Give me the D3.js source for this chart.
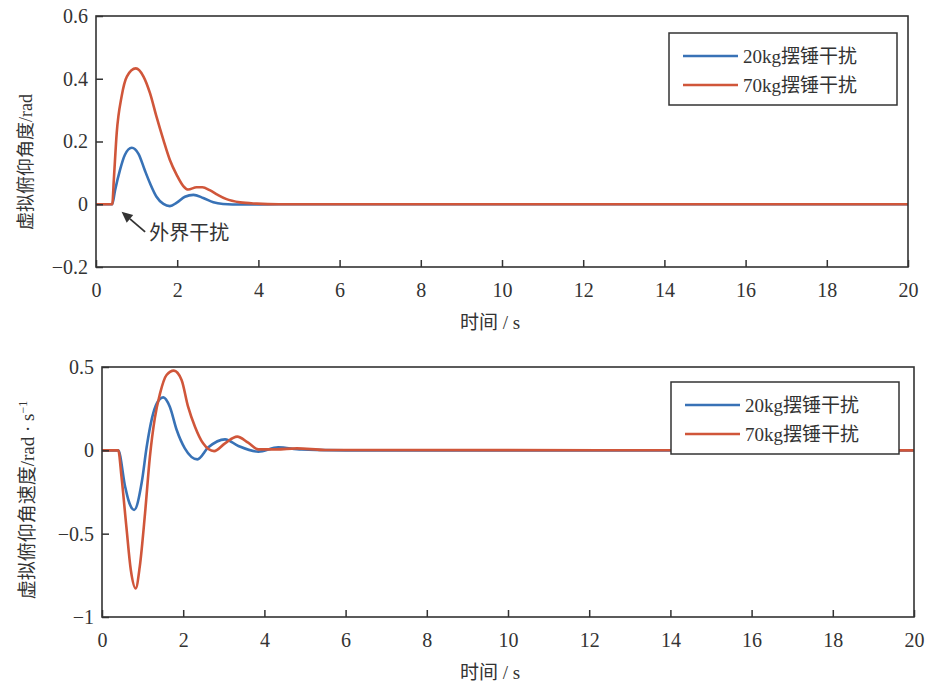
<!DOCTYPE html>
<html>
<head>
<meta charset="utf-8">
<script src="https://cdn.jsdelivr.net/npm/d3@7/dist/d3.min.js"></script>
<style>
  body { margin: 0; background: #fff; }
  svg text { font-family: "Liberation Serif", "Times New Roman", "DejaVu Serif", "Noto Sans CJK SC", serif; fill: #333; }
</style>
</head>
<body>
<div id="chart"></div>
<script>
var chart_width  = 927;
var chart_height = 683;
var serif = '"Liberation Serif", "Times New Roman", "DejaVu Serif", "Noto Sans CJK SC", serif';

var seriesNames = ['20kg摆锤干扰', '70kg摆锤干扰'];
var colors = ['#3872b6', '#d0563a'];

// 虚拟俯仰角度 (rad)
var tAngBlue = [0, 0.4, 0.47, 0.59, 0.71, 0.88, 1.05, 1.2, 1.33, 1.49, 1.66, 1.82, 1.99, 2.19, 2.4, 2.64, 2.89, 3.13, 3.6, 4.5, 20];
var angBlue  = [0, 0, 0.045, 0.109, 0.157, 0.18, 0.16, 0.109, 0.067, 0.024, 0.001, -0.006, 0.005, 0.024, 0.03, 0.02, 0.006, 0.001, -0.001, 0, 0];
var tAngRed  = [0, 0.4, 0.44, 0.51, 0.63, 0.76, 0.98, 1.17, 1.33, 1.49, 1.66, 1.82, 1.99, 2.15, 2.27, 2.48, 2.62, 2.8, 3.0, 3.2, 3.55, 3.96, 4.5, 20];
var angRed   = [0, 0, 0.08, 0.227, 0.343, 0.407, 0.433, 0.407, 0.354, 0.279, 0.205, 0.141, 0.093, 0.058, 0.047, 0.054, 0.054, 0.045, 0.03, 0.017, 0.006, 0.002, 0, 0];

// 虚拟俯仰角速度 (rad/s)
var tVelBlue = [0, 0.4, 0.57, 0.65, 0.79, 0.98, 1.1, 1.23, 1.35, 1.51, 1.67, 1.84, 2.04, 2.35, 2.62, 3.03, 3.36, 3.85, 4.34, 4.91, 6, 20];
var velBlue  = [0, 0, -0.218, -0.298, -0.358, -0.19, 0.02, 0.192, 0.282, 0.318, 0.262, 0.122, 0.012, -0.054, 0.018, 0.066, 0.026, -0.008, 0.018, 0.005, 0, 0];
var tVelRed  = [0, 0.4, 0.48, 0.6, 0.71, 0.83, 0.93, 1.06, 1.18, 1.3, 1.43, 1.59, 1.77, 1.96, 2.12, 2.29, 2.49, 2.76, 3.03, 3.33, 3.6, 3.85, 4.3, 4.8, 5.5, 20];
var velRed   = [0, 0, -0.158, -0.458, -0.718, -0.828, -0.698, -0.378, -0.038, 0.192, 0.342, 0.452, 0.478, 0.422, 0.262, 0.142, 0.042, -0.005, 0.042, 0.082, 0.046, 0.006, 0.006, 0.012, 0.002, 0];

var xTicks = [0, 2, 4, 6, 8, 10, 12, 14, 16, 18, 20];
var angTicks = [-0.2, 0, 0.2, 0.4, 0.6];
var velTicks = [-1, -0.5, 0, 0.5];

var svg = d3.select('#chart')
            .append('svg')
            .attr('width', chart_width)
            .attr('height', chart_height)
            .attr('font-family', serif);

function fmt(v) {
    return v < 0 ? '\u2212' + Math.abs(v) : String(v);
}

function zip(ts, vs) {
    return ts.map((t, i) => [t, vs[i]]);
}

function drawPanel(opt) {
    var g = svg.append('g').attr('transform', 'translate(' + opt.left + ',' + opt.top + ')');
    var x_scale = d3.scaleLinear().domain([0, 20]).range([0, opt.w]);
    var y_scale = d3.scaleLinear().domain(opt.domain).range([opt.h, 0]);

    var line = d3.line()
                 .x((d) => x_scale(d[0]))
                 .y((d) => y_scale(d[1]))
                 .curve(d3.curveMonotoneX);

    opt.series.forEach((s, i) => {
        g.append('path')
         .attr('d', line(s))
         .attr('fill', 'none')
         .attr('stroke', colors[i])
         .attr('stroke-width', 2.6)
         .attr('stroke-linejoin', 'round');
    });

    // axes, ticks pointing inward
    var xa = g.append('g')
              .attr('transform', 'translate(0,' + opt.h + ')')
              .call(d3.axisBottom(x_scale).tickValues(xTicks).tickSizeInner(-7).tickSizeOuter(0).tickPadding(16).tickFormat(fmt));
    var ya = g.append('g')
              .call(d3.axisLeft(y_scale).tickValues(opt.ticks).tickSizeInner(-7).tickSizeOuter(0).tickPadding(8).tickFormat(fmt));
    [xa, ya].forEach((a) => {
        a.attr('font-family', serif).attr('font-size', 20);
        a.select('.domain').remove();
        a.selectAll('line').attr('stroke', '#333').attr('stroke-width', 1.5);
        a.selectAll('text').attr('fill', '#333');
    });

    g.append('rect')
     .attr('width', opt.w).attr('height', opt.h)
     .attr('fill', 'none').attr('stroke', '#333').attr('stroke-width', 1.6);

    // legend
    var lg = g.append('g').attr('transform', 'translate(' + opt.legend[0] + ',' + opt.legend[1] + ')');
    lg.append('rect')
      .attr('width', 228).attr('height', 72)
      .attr('fill', '#fff').attr('stroke', '#333').attr('stroke-width', 1.5);
    seriesNames.forEach((name, i) => {
        var yy = 23 + i * 29;
        lg.append('line')
          .attr('x1', 14).attr('x2', 69).attr('y1', yy).attr('y2', yy)
          .attr('stroke', colors[i]).attr('stroke-width', 2.6);
        lg.append('text')
          .attr('x', 74).attr('y', yy).attr('dy', '0.35em')
          .attr('font-size', 19).text(name);
    });

    // axis titles
    g.append('text')
     .attr('x', 490 - opt.left).attr('y', opt.h + 62)
     .attr('text-anchor', 'middle').attr('font-size', 19)
     .text('时间 / s');

    var yl = g.append('text')
              .attr('transform', 'translate(' + opt.ylab[0] + ',' + opt.ylab[1] + ') rotate(-90)')
              .attr('text-anchor', 'middle').attr('font-size', opt.ysize)
              .text(opt.ytitle);
    if (opt.sup) {
        yl.append('tspan').attr('dy', -7).attr('font-size', 12).text(opt.sup);
    }

    return { g: g, x: x_scale, y: y_scale };
}

var top_panel = drawPanel({
    left: 96, top: 16, w: 812, h: 251,
    domain: [-0.2, 0.6], ticks: angTicks,
    series: [zip(tAngBlue, angBlue), zip(tAngRed, angRed)],
    legend: [573, 17],
    ytitle: '虚拟俯仰角度/rad',
    ysize: 18,
    ylab: [-64, 146]
});

drawPanel({
    left: 102, top: 367, w: 812, h: 250,
    domain: [-1, 0.5], ticks: velTicks,
    series: [zip(tVelBlue, velBlue), zip(tVelRed, velRed)],
    legend: [569, 15],
    ytitle: '虚拟俯仰角速度/rad · s',
    ysize: 19,
    sup: '\u22121',
    ylab: [-68, 133]
});

// annotation: 外界干扰
var arrowTip  = [0.63, -0.024];
var arrowTail = [1.21, -0.088];
var tg = top_panel.g, tx = top_panel.x, ty = top_panel.y;
var x1 = tx(arrowTail[0]), y1 = ty(arrowTail[1]);
var x2 = tx(arrowTip[0]),  y2 = ty(arrowTip[1]);
var ang = Math.atan2(y2 - y1, x2 - x1);
var hl = 11, hw = 5;
var bx = x2 - hl * Math.cos(ang), by = y2 - hl * Math.sin(ang);
tg.append('line')
  .attr('x1', x1).attr('y1', y1).attr('x2', bx).attr('y2', by)
  .attr('stroke', '#333').attr('stroke-width', 1.8);
tg.append('path')
  .attr('d', 'M' + x2 + ',' + y2 +
             'L' + (bx + hw * Math.sin(ang)) + ',' + (by - hw * Math.cos(ang)) +
             'L' + (bx - hw * Math.sin(ang)) + ',' + (by + hw * Math.cos(ang)) + 'Z')
  .attr('fill', '#333');
tg.append('text')
  .attr('x', tx(1.31)).attr('y', ty(-0.093)).attr('dy', '0.35em')
  .attr('font-size', 20).text('外界干扰');
</script>
</body>
</html>
